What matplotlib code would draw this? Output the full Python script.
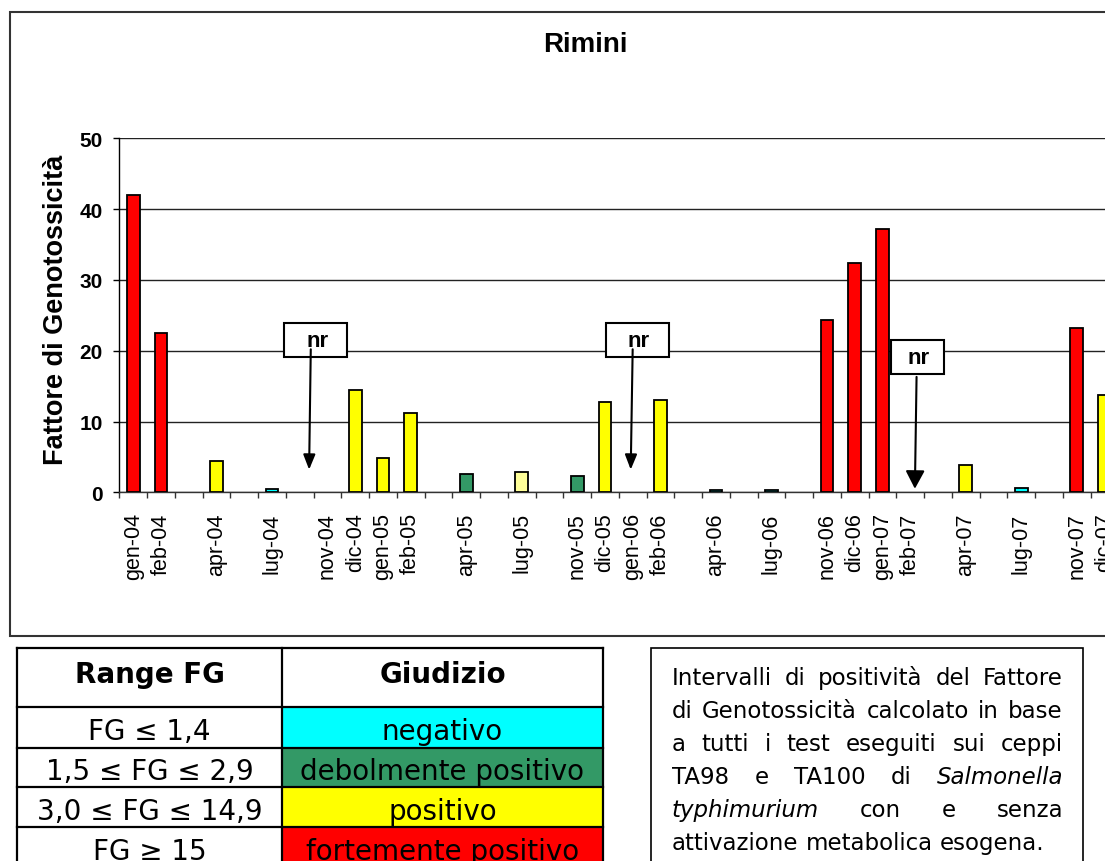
import numpy as np
import matplotlib
matplotlib.use("Agg")
import matplotlib.pyplot as plt
from matplotlib.patches import Rectangle

# ---- data -------------------------------------------------------------
months = ["gen-04", "feb-04", "", "apr-04", "", "lug-04", "", "nov-04",
          "dic-04", "gen-05", "feb-05", "", "apr-05", "", "lug-05", "",
          "nov-05", "dic-05", "gen-06", "feb-06", "", "apr-06", "", "lug-06",
          "", "nov-06", "dic-06", "gen-07", "feb-07", "", "apr-07", "",
          "lug-07", "", "nov-07", "dic-07"]
fg_values = [42.0, 22.5, None, 4.4, None, 0.5, None, None,
             14.5, 4.9, 11.2, None, 2.6, None, 2.9, None,
             2.3, 12.7, None, 13.0, None, 0.3, None, 0.3,
             None, 24.4, 32.4, 37.2, None, None, 3.8, None,
             0.6, None, 23.2, 13.7]
# judgement class of each sample: N negativo, D debolmente positivo,
# P positivo, L positivo (pale), F fortemente positivo
judgement = ["F", "F", "", "P", "", "N", "", "",
             "P", "P", "P", "", "D", "", "L", "",
             "D", "P", "", "P", "", "N", "", "N",
             "", "F", "F", "F", "", "", "P", "",
             "N", "", "F", "P"]
not_reported = ["nov-04", "gen-06", "feb-07"]
y_ticks = [0, 10, 20, 30, 40, 50]

range_labels = ["FG \u2264 1,4", "1,5 \u2264 FG \u2264 2,9",
                "3,0 \u2264 FG \u2264 14,9", "FG \u2265 15"]
judgement_labels = ["negativo", "debolmente positivo", "positivo",
                    "fortemente positivo"]
judgement_colors = ["#00FFFF", "#339966", "#FFFF00", "#FF0000"]

class_colors = {"N": "#00FFFF", "D": "#339966", "P": "#FFFF00",
                "L": "#FFFF99", "F": "#FF0000"}

note_lines = [
    [("Intervalli", False), ("di", False), ("positività", False),
     ("del", False), ("Fattore", False)],
    [("di", False), ("Genotossicità", False), ("calcolato", False),
     ("in", False), ("base", False)],
    [("a", False), ("tutti", False), ("i", False), ("test", False),
     ("eseguiti", False), ("sui", False), ("ceppi", False)],
    [("TA98", False), ("e", False), ("TA100", False), ("di", False),
     ("Salmonella", True)],
    [("typhimurium", True), ("con", False), ("e", False), ("senza", False)],
    [("attivazione", False), ("metabolica", False), ("esogena.", False)],
]

# ---- figure -----------------------------------------------------------
W, H = 1105, 862
fig = plt.figure(figsize=(W / 100, H / 100), dpi=100)
CHART_FONT = "Liberation Sans"
TABLE_FONT = "DejaVu Sans"

slot_px = 27.75
left_px, zero_px, top_px = 119.3, 493.3, 139.3
n_axis_slots = 37
ax = fig.add_axes([left_px / W, 1 - zero_px / H,
                   n_axis_slots * slot_px / W, (zero_px - top_px) / H])
ax.set_xlim(-0.5, n_axis_slots - 0.5)
ax.set_ylim(0, 50)

xs = [i for i, v in enumerate(fg_values) if v is not None]
hs = [fg_values[i] for i in xs]
cs = [class_colors[judgement[i]] for i in xs]
ax.bar(xs, hs, width=0.46, color=cs, edgecolor="black", linewidth=1.3,
       zorder=3)

for s in ["top", "right"]:
    ax.spines[s].set_visible(False)
ax.spines["left"].set_linewidth(1.0)
ax.spines["bottom"].set_linewidth(1.0)
ax.spines["bottom"].set_color("#333333")

ax.set_yticks(y_ticks)
ax.set_yticklabels([str(t) for t in y_ticks], fontfamily=CHART_FONT,
                   fontweight="bold", fontsize=15)
ax.yaxis.grid(True, color="#222222", linewidth=1.0)
ax.set_axisbelow(True)
ax.tick_params(axis="y", direction="out", length=4.3, width=1, pad=7.5)

ax.set_xticks(range(len(months)))
ax.set_xticklabels(months, rotation=90, fontfamily=CHART_FONT, fontsize=15.5)
ax.set_xticks(np.arange(-0.5, n_axis_slots, 1.0), minor=True)
ax.tick_params(axis="x", which="major", length=0, pad=14.4)
ax.tick_params(axis="x", which="minor", length=4.3, width=1,
               color="#333333")

# "not reported" callouts: box offset, box width, arrow tail/tip offsets
nr_layout = {
    "nov-04": dict(bx=-0.42, by=21.5, bw=2.27, tail=(-0.60, 20.2),
                   tip=(-0.66, 3.2), hl=0.45, hw=0.18, top=True),
    "gen-06": dict(bx=0.17, by=21.5, bw=2.27, tail=(0.0, 20.2),
                   tip=(-0.07, 3.2), hl=0.45, hw=0.18, top=True),
    "feb-07": dict(bx=0.26, by=19.1, bw=1.93, tail=(0.23, 16.3),
                   tip=(0.17, 0.5), hl=0.55, hw=0.29, top=False),
}
for m in not_reported:
    i = months.index(m)
    L = nr_layout[m]
    cx, cy, bw, bh = i + L["bx"], L["by"], L["bw"], 4.8
    ax.add_patch(Rectangle((cx - bw / 2, cy - bh / 2), bw, bh,
                           facecolor="white", edgecolor="black",
                           linewidth=1.5, zorder=5, clip_on=False))
    ax.text(cx + 0.05, cy, "nr", ha="center", va="center",
            fontfamily=CHART_FONT, fontweight="bold", fontsize=16,
            zorder=6)
    ax.annotate("", xy=(i + L["tip"][0], L["tip"][1]),
                xytext=(i + L["tail"][0], L["tail"][1]),
                arrowprops=dict(arrowstyle="-|>,head_length=%g,head_width=%g"
                                % (L["hl"], L["hw"]),
                                color="black", lw=1.5, mutation_scale=20,
                                shrinkA=0, shrinkB=0),
                zorder=7 if L["top"] else 4)

# ---- overlay in pixel units ------------------------------------------
ov = fig.add_axes([0, 0, 1, 1], zorder=10)
ov.set_xlim(0, W)
ov.set_ylim(H, 0)
ov.axis("off")
ov.patch.set_alpha(0)

# chart frame
ov.plot([W + 10, 10, 10, W + 10], [13, 13, 637, 637], color="#333333",
        lw=1.5, solid_joinstyle="miter")

fig.text(585 / W, 1 - 45 / H, "Rimini", ha="center", va="center",
         fontfamily=CHART_FONT, fontweight="bold", fontsize=20)
fig.text(56 / W, 1 - 310 / H, "Fattore di Genotossicità", rotation=90,
         ha="center", va="center", fontfamily=CHART_FONT,
         fontweight="bold", fontsize=19.5)

# legend table
col_x = [17, 282, 603]
row_y = [649, 708, 749, 788, 828, 868]
for k, c in enumerate(judgement_colors):
    ov.add_patch(Rectangle((col_x[1], row_y[k + 1]), col_x[2] - col_x[1],
                           row_y[k + 2] - row_y[k + 1], facecolor=c,
                           edgecolor="none", zorder=1))
for y in row_y:
    ov.plot([col_x[0], col_x[2]], [y, y], color="black", lw=1.6, zorder=2,
            solid_capstyle="projecting")
for x in col_x:
    ov.plot([x, x], [row_y[0], row_y[-1]], color="black", lw=1.6, zorder=2,
            solid_capstyle="projecting")

c1 = (col_x[0] + col_x[1]) / 2
c2 = (col_x[1] + col_x[2]) / 2
ov.text(c1, 683, "Range FG", ha="center", va="baseline",
        fontfamily=TABLE_FONT, fontweight="bold", fontsize=20)
ov.text(c2, 683, "Giudizio", ha="center", va="baseline",
        fontfamily=TABLE_FONT, fontweight="bold", fontsize=20)
for k in range(4):
    base = 740 + 40 * k
    ov.text(c1, base, range_labels[k], ha="center", va="baseline",
            fontfamily=TABLE_FONT, fontsize=20)
    ov.text(c2, base, judgement_labels[k], ha="center", va="baseline",
            fontfamily=TABLE_FONT, fontsize=20)

# explanatory note, justified
ov.plot([651, 651, 1083, 1083], [H + 10, 649, 649, H + 10], color="black",
        lw=1.2, solid_joinstyle="miter")
renderer = fig.canvas.get_renderer()
text_left, text_right = 672, 1063
note_size = 16.5
for li, words in enumerate(note_lines):
    base = 685 + 33 * li
    objs = []
    for w, it in words:
        t = ov.text(0, base, w, ha="left", va="baseline",
                    fontfamily=TABLE_FONT, fontsize=note_size,
                    fontstyle="italic" if it else "normal")
        objs.append(t)
    widths = [t.get_window_extent(renderer).width for t in objs]
    if li < len(note_lines) - 1 and len(objs) > 1:
        gap = (text_right - text_left - sum(widths)) / (len(objs) - 1)
    else:
        sp = ov.text(0, 0, "a a", fontfamily=TABLE_FONT, fontsize=note_size)
        sp2 = ov.text(0, 0, "aa", fontfamily=TABLE_FONT, fontsize=note_size)
        gap = (sp.get_window_extent(renderer).width
               - sp2.get_window_extent(renderer).width)
        sp.remove()
        sp2.remove()
    x = text_left
    for t, wd in zip(objs, widths):
        t.set_x(x)
        x += wd + gap

fig.savefig("out.png", dpi=100)
